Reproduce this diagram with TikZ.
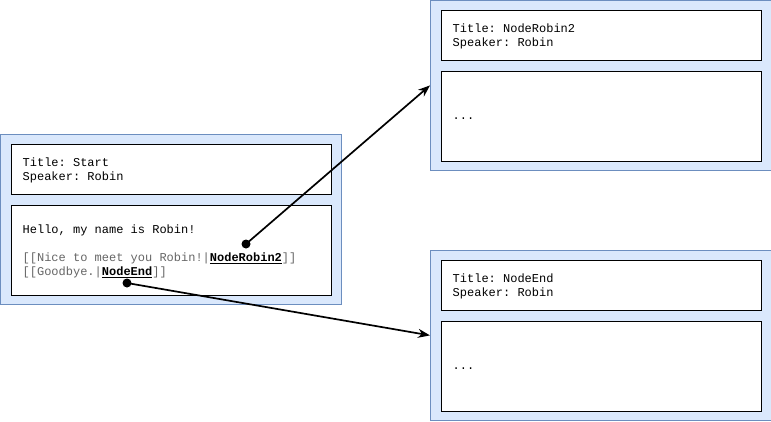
\documentclass[tikz,border=0pt]{standalone}
\usepackage{fontspec}
\setmonofont{Liberation Mono}
\usepackage{xcolor}
\usetikzlibrary{shapes,arrows,positioning,calc,arrows.meta}

\definecolor{panelfill}{HTML}{DAE8FC}
\definecolor{paneldraw}{HTML}{6C8EBF}

\begin{document}
\begin{tikzpicture}[x=1pt, y=-1pt, node distance=10pt, >=latex']
    \tikzstyle{panel} = [rectangle, minimum width=341pt, minimum height=170pt, anchor=north west, draw=paneldraw, fill=panelfill, inner sep=0pt, line width=0.8pt]
    \tikzstyle{head} = [rectangle, minimum width=320pt, minimum height=50pt, draw=black, fill=white, inner sep=0pt, line width=0.8pt]
    \tikzstyle{body} = [rectangle, minimum width=320pt, minimum height=90pt, draw=black, fill=white, inner sep=0pt, line width=0.8pt]
    \tikzstyle{txt} = [anchor=north west, inner sep=0pt, align=left, font=\ttfamily\fontsize{12}{14}\selectfont]
    \tikzstyle{arrow} = [line width=1.7pt, -{Stealth[length=12pt,width=9pt]}]
    \tikzstyle{dot} = [circle, fill=black, minimum size=9pt, inner sep=0pt]
    \newcommand{\lnk}[1]{\textcolor{black}{\textbf{\underline{#1}}}}

    \useasboundingbox (0,0) rectangle (771,421);

    % panels
    \node (start) [panel] at (0,134) {};
    \node (robin2) [panel] at (430,0) {};
    \node (nend) [panel] at (430,250) {};

    % start node
    \node (starthead) [head, below=10pt of start.north] {};
    \node (startbody) [body, below=10pt of starthead] {};
    \node (starttitle) [txt] at ($(starthead.north west)+(12,14)$) {Title: Start\\Speaker: Robin};
    \node (starttext) [txt] at ($(startbody.north west)+(12,20)$) {Hello, my name is Robin!\\[14pt]
        \textcolor{black!60}{[[Nice to meet you Robin!|}\lnk{NodeRobin2}\textcolor{black!60}{]]}\\
        \textcolor{black!60}{[[Goodbye.|}\lnk{NodeEnd}\textcolor{black!60}{]]}};

    % NodeRobin2
    \node (robin2head) [head, below=10pt of robin2.north] {};
    \node (robin2body) [body, below=10pt of robin2head] {};
    \node (robin2title) [txt] at ($(robin2head.north west)+(12,14)$) {Title: NodeRobin2\\Speaker: Robin};
    \node (robin2text) [txt] at ($(robin2body.west)+(12,1)$) {...};

    % NodeEnd
    \node (nendhead) [head, below=10pt of nend.north] {};
    \node (nendbody) [body, below=10pt of nendhead] {};
    \node (nendtitle) [txt] at ($(nendhead.north west)+(12,14)$) {Title: NodeEnd\\Speaker: Robin};
    \node (nendtext) [txt] at ($(nendbody.west)+(12,1)$) {...};

    % links
    \node (linkrobin2) [dot] at (246,244) {};
    \node (linkend) [dot] at (127,283) {};
    \draw [arrow] (linkrobin2.center) -- (robin2.west);
    \draw [arrow] (linkend.center) -- (nend.west);
\end{tikzpicture}
\end{document}
